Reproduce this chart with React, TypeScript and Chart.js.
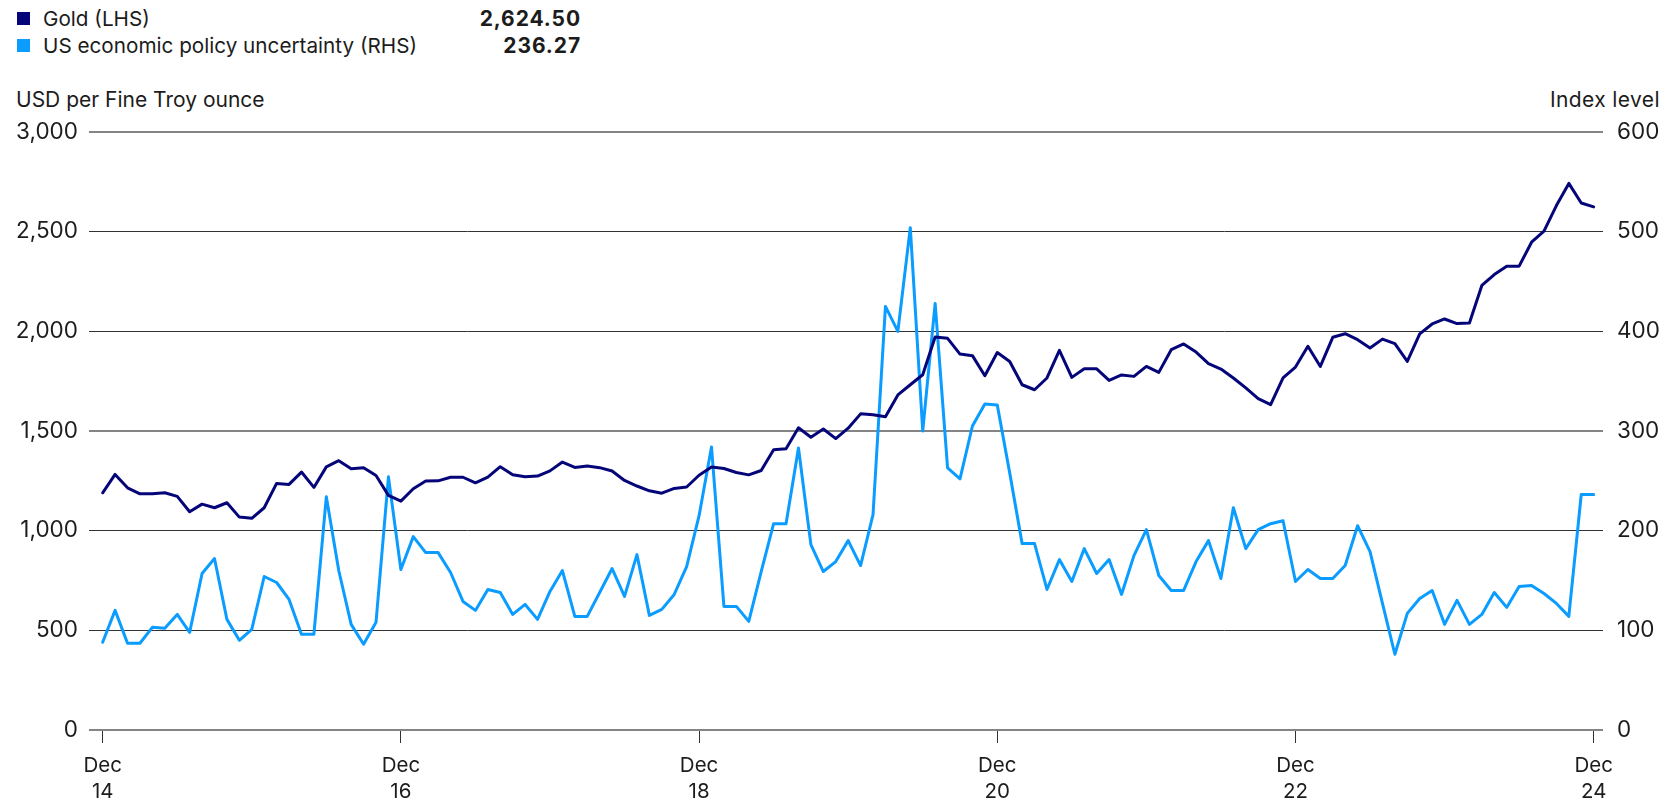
import React, { useEffect, useRef } from 'react';
import { Chart, registerables } from 'chart.js';

Chart.register(...registerables);

// Monthly observations, Dec 2014 .. Dec 2024 (121 months)
const goldValues: number[] = [
  1190, 1282, 1215, 1185, 1185, 1190, 1172, 1095, 1133, 1115, 1140, 1068,
  1062, 1115, 1237, 1232, 1294, 1217, 1320, 1351, 1311, 1316, 1277, 1177,
  1148, 1210, 1249, 1250, 1268, 1268, 1240, 1269, 1321, 1281, 1271, 1274,
  1300, 1344, 1317, 1324, 1316, 1299, 1252, 1224, 1200, 1188, 1212, 1219,
  1278, 1319, 1312, 1292, 1280, 1302, 1406, 1411, 1516, 1469, 1510, 1462,
  1514, 1586, 1581, 1572, 1681, 1732, 1782, 1972, 1965, 1886, 1878, 1777,
  1894, 1849, 1732, 1707, 1766, 1905, 1769, 1812, 1812, 1754, 1781, 1774,
  1824, 1794, 1908, 1937, 1896, 1838, 1811, 1766, 1716, 1662, 1632, 1766,
  1821, 1925, 1824, 1970, 1988, 1958, 1916, 1961, 1938, 1849, 1987, 2037,
  2062, 2039, 2042, 2230, 2285, 2327, 2327, 2447, 2503, 2631, 2742, 2644,
  2624.5,
];

const epuValues: number[] = [
  88, 120, 87, 87, 103, 102, 116, 98, 157, 172, 111, 90,
  101, 154, 148, 131, 96, 96, 234, 160, 106, 86, 108, 254,
  161, 194, 178, 178, 158, 129, 120, 141, 138, 116, 126, 111,
  139, 160, 114, 114, 138, 162, 134, 176, 115, 121, 136, 164,
  215, 284, 124, 124, 109, 159, 207, 207, 283, 186, 159, 169,
  190, 165, 216, 425, 400, 504, 300, 428, 263, 252, 305, 327,
  326, 258, 187, 187, 141, 171, 149, 182, 157, 171, 136, 175,
  201, 155, 140, 140, 169, 190, 152, 223, 182, 201, 207, 210,
  149, 161, 152, 152, 165, 205, 179, 127, 76, 117, 132, 140,
  106, 130, 106, 116, 138, 123, 144, 145, 137, 127, 114, 236.27,
  236.27,
];

// month index of each x tick and its two-line label
const xTickPositions: number[] = [0, 24, 48, 72, 96, 120];
const xTickLabels: string[][] = [
  ['Dec', '14'], ['Dec', '16'], ['Dec', '18'], ['Dec', '20'], ['Dec', '22'], ['Dec', '24'],
];
const leftTicks: number[] = [0, 500, 1000, 1500, 2000, 2500, 3000];
const rightTicks: number[] = [0, 100, 200, 300, 400, 500, 600];

const seriesNames: string[] = ['Gold (LHS)', 'US economic policy uncertainty (RHS)'];
const seriesLatest: string[] = ['2,624.50', '236.27'];
const seriesColors: string[] = ['#05057a', '#0a9cff'];

const FONT = 'Inter, Roboto, "DejaVu Sans", sans-serif';
const TEXT = '#1c1c1c';

export default function App() {
  const canvasRef = useRef<HTMLCanvasElement | null>(null);

  useEffect(() => {
    const canvas = canvasRef.current;
    if (!canvas) return;
    const gridColor = (v: number) => (v === 0 || v === 1500 || v === 3000 ? '#858585' : '#333333');
    const gridWidth = (v: number) => (v === 0 || v === 1500 || v === 3000 ? 2 : 1);

    const chart = new Chart(canvas, {
      type: 'line',
      data: {
        datasets: [
          {
            label: seriesNames[0],
            data: goldValues.map((v, i) => ({ x: i, y: v })),
            borderColor: seriesColors[0],
            backgroundColor: seriesColors[0],
            borderWidth: 3,
            yAxisID: 'y',
            pointRadius: 0,
            tension: 0,
          },
          {
            label: seriesNames[1],
            data: epuValues.map((v, i) => ({ x: i, y: v })),
            borderColor: seriesColors[1],
            backgroundColor: seriesColors[1],
            borderWidth: 3,
            yAxisID: 'y1',
            pointRadius: 0,
            tension: 0,
          },
        ],
      },
      options: {
        responsive: false,
        animation: false,
        devicePixelRatio: 1,
        layout: { padding: { top: 132, left: 0, right: 0, bottom: 0 } },
        plugins: { legend: { display: false }, tooltip: { enabled: false } },
        elements: { line: { borderJoinStyle: 'round', borderCapStyle: 'round' } },
        scales: {
          x: {
            type: 'linear',
            min: -1.1,
            max: 120.75,
            afterBuildTicks: (s: any) => {
              s.ticks = xTickPositions.map((v) => ({ value: v }));
            },
            afterFit: (s: any) => {
              s.height = 71;
            },
            ticks: {
              autoSkip: false,
              maxRotation: 0,
              padding: 10,
              color: TEXT,
              font: { family: FONT, size: 20.5, lineHeight: 1.27 },
              callback: (v: any) => xTickLabels[xTickPositions.indexOf(Number(v))] ?? '',
            },
            grid: { drawOnChartArea: false, drawTicks: true, tickLength: 13, color: '#333333', lineWidth: 1 },
            border: { display: false },
          },
          y: {
            position: 'left',
            min: 0,
            max: 3000,
            afterBuildTicks: (s: any) => {
              s.ticks = leftTicks.map((v) => ({ value: v }));
            },
            afterFit: (s: any) => {
              s.width = 89;
            },
            ticks: {
              padding: 11,
              color: TEXT,
              font: { family: FONT, size: 22.5 },
              callback: (v: any) => Number(v).toLocaleString('en-US'),
            },
            grid: {
              drawTicks: false,
              color: (ctx: any) => gridColor(ctx.tick.value),
              lineWidth: (ctx: any) => gridWidth(ctx.tick.value),
            },
            border: { display: false },
          },
          y1: {
            position: 'right',
            min: 0,
            max: 600,
            afterBuildTicks: (s: any) => {
              s.ticks = rightTicks.map((v) => ({ value: v }));
            },
            afterFit: (s: any) => {
              s.width = 73;
            },
            ticks: {
              padding: 14,
              color: TEXT,
              font: { family: FONT, size: 22.5 },
              callback: (v: any) => String(v),
            },
            grid: { drawOnChartArea: false, drawTicks: false },
            border: { display: false },
          },
        },
      },
    } as any);
    return () => chart.destroy();
  }, []);

  const textBase: React.CSSProperties = {
    position: 'absolute',
    fontFamily: FONT,
    color: TEXT,
    whiteSpace: 'nowrap',
    lineHeight: '26px',
    transform: 'translateY(-50%)',
  };

  return (
    <div style={{ position: 'fixed', left: 0, top: 0, width: 1676, height: 801, background: '#fff', overflow: 'hidden' }}>
      {seriesNames.map((name, i) => {
        const cy = 18.5 + i * 27;
        return (
          <React.Fragment key={name}>
            <div style={{ position: 'absolute', left: 17, top: cy - 6.5, width: 13, height: 13, background: seriesColors[i] }} />
            <div style={{ ...textBase, left: 43, top: cy, fontSize: 20.7 }}>{name}</div>
            <div
              style={{
                ...textBase,
                right: 1676 - 581,
                top: cy,
                fontSize: 21,
                fontWeight: 700,
                letterSpacing: '0.9px',
                textAlign: 'right',
              }}
            >
              {seriesLatest[i]}
            </div>
          </React.Fragment>
        );
      })}
      <div style={{ ...textBase, left: 16, top: 99.5, fontSize: 21 }}>USD per Fine Troy ounce</div>
      <div style={{ ...textBase, right: 1676 - 1660, top: 99.5, fontSize: 21, letterSpacing: '0.4px', textAlign: 'right' }}>
        Index level
      </div>
      <canvas
        ref={canvasRef}
        width={1676}
        height={801}
        style={{ position: 'absolute', left: 0, top: 0, width: 1676, height: 801 }}
      />
    </div>
  );
}
